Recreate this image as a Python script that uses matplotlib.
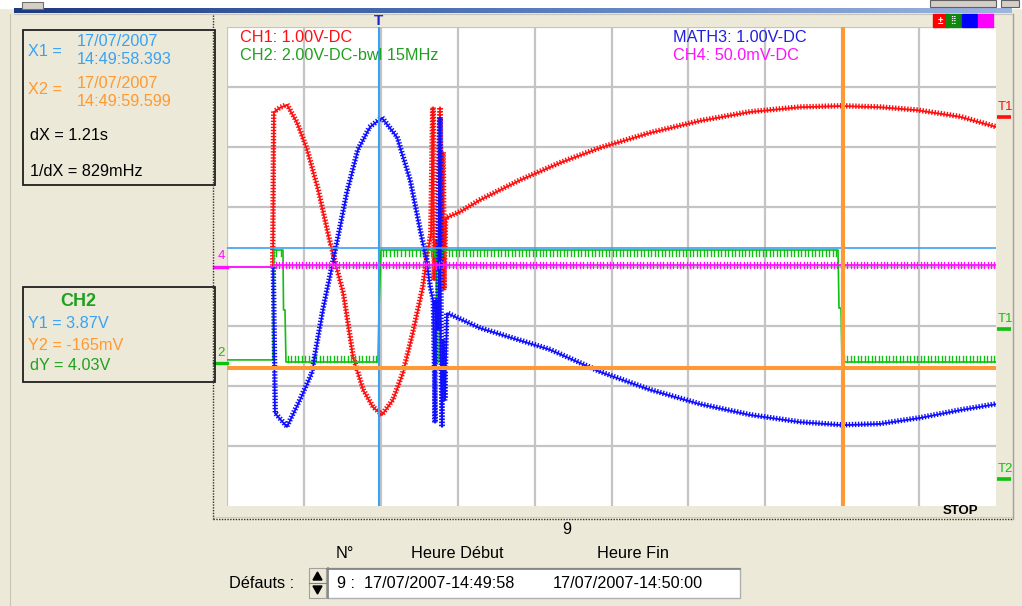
import numpy as np
import matplotlib
matplotlib.use("Agg")
import matplotlib.pyplot as plt
from matplotlib import patheffects as pe
from matplotlib.patches import Rectangle, Polygon
from matplotlib.colors import LinearSegmentedColormap
import matplotlib.transforms as mtransforms

# ------------------------------------------------------------------ data
sec_per_div = 0.2          # time base (s/div), 10 divisions
ch1_scale = 1.0            # V/div
math3_scale = 1.0          # V/div
ch2_scale = 2.0            # V/div
ch2_pos = -1.62            # div (ground position of CH2)
ch4_scale = 50.0           # mV/div

# CH1 (red), seconds / volts
ch1_t = [0.1196, 0.1222, 0.1378, 0.156, 0.1821, 0.2081, 0.2367, 0.2679, 0.3017, 0.3277,
         0.3537, 0.3797, 0.4031, 0.4317, 0.4577, 0.4837, 0.5098, 0.5228, 0.5306, 0.5358,
         0.5384, 0.5436, 0.5488, 0.554, 0.5566, 0.5618, 0.5644, 0.5696, 0.606, 0.658,
         0.762, 0.8661, 0.9701, 1.1001, 1.2302, 1.3602, 1.4903, 1.5995, 1.6983, 1.7946,
         1.9064, 2.0]
ch1_v = [0.0, 2.58, 2.65, 2.70, 2.40, 1.95, 1.28, 0.39, -0.44, -1.51,
         -2.06, -2.35, -2.48, -2.23, -1.78, -1.11, -0.34, 0.28, 0.53, 2.66,
         -0.23, 0.44, -0.06, 2.66, 0.11, 1.91, -0.39, 0.81, 0.91, 1.11,
         1.44, 1.73, 1.98, 2.23, 2.43, 2.58, 2.66, 2.68, 2.66, 2.61,
         2.50, 2.33]

# MATH3 (blue), seconds / volts
math3_t = [0.1196, 0.1248, 0.156, 0.1899, 0.2211, 0.2497, 0.2861, 0.3121, 0.3407, 0.3719,
           0.4031, 0.4421, 0.4759, 0.5019, 0.5202, 0.528, 0.5358, 0.541, 0.5436, 0.5488,
           0.554, 0.5566, 0.5592, 0.5618, 0.567, 0.5722, 0.658, 0.8401, 0.9701, 1.1001,
           1.2302, 1.3602, 1.4903, 1.5995, 1.6983, 1.8024, 1.9064, 2.0]
math3_v = [0.0, -2.45, -2.68, -2.23, -1.78, -0.73, 0.39, 1.23, 1.95, 2.33,
           2.48, 2.16, 1.44, 0.61, 0.06, -0.34, -0.56, -2.61, -0.56, -1.06,
           2.49, -1.89, -2.68, -1.22, -2.23, -0.78, -1.03, -1.39, -1.76, -2.06,
           -2.30, -2.48, -2.60, -2.65, -2.63, -2.53, -2.40, -2.30]

# CH2 (green), seconds / volts
ch2_t = [0.0, 0.1196, 0.1222, 0.1456, 0.147, 0.1508, 0.1534, 0.3927, 0.3953, 0.4005,
         0.5436, 0.5462, 0.5514, 0.554, 1.5891, 1.5917, 1.5969, 1.5995, 2.0]
ch2_v = [0.12, 0.12, 3.79, 3.79, 1.79, 1.79, 0.05, 0.05, 1.79, 3.79,
         3.79, 0.05, 0.05, 3.79, 3.79, 1.85, 1.85, 0.05, 0.05]

# CH4 (magenta), seconds / millivolts
ch4_t = [0.0, 0.1196, 0.1222, 2.0]
ch4_mv = [-0.4, -0.4, 1.25, 1.25]

# cursors
cursor_x = [0.395, 1.601]      # s  (X1, X2)
cursor_y = [3.87, -0.165]      # V on CH2 (Y1, Y2)
trig_ch1 = 2.5                 # V
trig_ch2 = [1.15, -3.86]       # V  (T1, T2)

channel_labels = ["CH1: 1.00V-DC", "CH2: 2.00V-DC-bwl 15MHz",
                  "MATH3: 1.00V-DC", "CH4: 50.0mV-DC"]
x_panel = ["X1 =", "17/07/2007", "14:49:58.393", "X2 =", "17/07/2007", "14:49:59.599",
           "dX = 1.21s", "1/dX = 829mHz"]
y_panel = ["CH2", "Y1 = 3.87V", "Y2 = -165mV", "dY = 4.03V"]
bottom_head = ["N°", "Heure Début", "Heure Fin"]
defaut_row = ["9 :  17/07/2007-14:49:58", "17/07/2007-14:50:00"]

# ------------------------------------------------------------------ style
plt.rcParams['font.family'] = ['Liberation Sans', 'DejaVu Sans']
FS = 11.7
BEIGE = '#ECE9D8'
RED, GREEN, BLUE, MAG = '#FF1010', '#10C010', '#1010FF', '#FF10FF'
CYAN, ORANGE = '#3AA2F2', '#FF9933'
TXT_GREEN = '#20A020'

W, H = 1022, 606
fig = plt.figure(figsize=(W / 100, H / 100), dpi=100, facecolor=BEIGE)

ax = fig.add_axes([227 / W, 1 - 506 / H, 769 / W, 479 / H])
ax.set_facecolor('white')
ax.set_xlim(0, 10 * sec_per_div)
ax.set_ylim(-4, 4)
ax.set_xticks(np.arange(10) * sec_per_div)
ax.set_yticks(np.arange(-3, 5))
ax.grid(True, color='#C4C4C4', lw=1.6)
ax.tick_params(length=0, labelbottom=False, labelleft=False)
for s in ax.spines.values():
    s.set_visible(False)


def to_div(v, scale, pos=0.0):
    return np.asarray(v, float) / scale + pos


def runs(mask):
    idx = np.flatnonzero(mask)
    if idx.size == 0:
        return []
    splits = np.flatnonzero(np.diff(idx) > 1) + 1
    return [g for g in np.split(idx, splits) if g.size >= 2]


def hair(up, down, spacing, lw):
    eff = []
    if up:
        eff.append(pe.TickedStroke(angle=90, spacing=spacing, length=up, linewidth=lw))
    if down:
        eff.append(pe.TickedStroke(angle=-90, spacing=spacing, length=down, linewidth=lw))
    return eff


# CH1
t1 = np.array(ch1_t); y1 = to_div(ch1_v, ch1_scale)
ax.plot(t1, y1, color=RED, lw=1.3, zorder=2,
        path_effects=hair(0.75, 0.55, 2.2, 1.0) + [pe.Normal()])

# CH2
t2 = np.array(ch2_t); v2 = np.array(ch2_v); y2 = to_div(v2, ch2_scale, ch2_pos)
ax.plot(t2, y2, color=GREEN, lw=1.2, zorder=3)
for g in runs((v2 > 2.0)):
    ax.plot(t2[g], y2[g], color=GREEN, lw=1.2, zorder=3,
            path_effects=hair(0, 1.8, 2.5, 1.0))
for g in runs((v2 < 1.0) & (t2 > 0.121)):
    ax.plot(t2[g], y2[g], color=GREEN, lw=1.2, zorder=3,
            path_effects=hair(1.8, 0, 2.5, 1.0))

# MATH3
tm = np.array(math3_t); ym = to_div(math3_v, math3_scale)
ax.plot(tm, ym, color=BLUE, lw=1.3, zorder=4,
        path_effects=hair(0.75, 0.55, 2.2, 1.0) + [pe.Normal()])

# CH4
t4 = np.array(ch4_t); y4 = to_div(ch4_mv, ch4_scale)
ax.plot(t4, y4, color=MAG, lw=1.3, zorder=5)
for g in runs(t4 > 0.121):
    ax.plot(t4[g], y4[g], color=MAG, lw=1.0, zorder=5,
            path_effects=hair(0.9, 0.9, 2.4, 0.9))

# cursors
ax.axvline(cursor_x[0], color=CYAN, lw=1.5, zorder=7)
ax.axhline(to_div(cursor_y[0], ch2_scale, ch2_pos), color=CYAN, lw=1.2, zorder=7)
ax.axvline(cursor_x[1], color=ORANGE, lw=2.9, zorder=7)
ax.axhline(to_div(cursor_y[1], ch2_scale, ch2_pos), color=ORANGE, lw=2.9, zorder=7)

# channel markers in the margins
bl = mtransforms.blended_transform_factory(ax.transAxes, ax.transData)
bt = mtransforms.blended_transform_factory(ax.transData, ax.transAxes)
px = 1 / 769.0
py = 1 / 479.0
for yv, col, lab in [(to_div(0, ch4_scale), MAG, "4"), (ch2_pos, GREEN, "2")]:
    ax.plot([-13 * px, 0], [yv, yv], color=col, lw=2.4, transform=bl, clip_on=False)
    ax.text(-6 * px, yv + 0.17, lab, color=col, fontsize=9.5, ha='center', va='center',
            transform=bl, clip_on=False)
for yv, col, lab in [(to_div(trig_ch1, ch1_scale), RED, "T1"),
                     (to_div(trig_ch2[0], ch2_scale, ch2_pos), GREEN, "T1"),
                     (to_div(trig_ch2[1], ch2_scale, ch2_pos), GREEN, "T2")]:
    ax.plot([1 + 1 * px, 1 + 15 * px], [yv, yv], color=col, lw=2.6, transform=bl,
            clip_on=False, solid_capstyle='butt')
    ax.text(1 + 9 * px, yv + 0.17, lab, color=col, fontsize=9.5, ha='center', va='center',
            transform=bl, clip_on=False)
ax.text(cursor_x[0], 1 + 6 * py, "T", color='#2020C8', fontsize=11, fontweight='bold',
        ha='center', va='center', transform=bt, clip_on=False, zorder=8)

# ------------------------------------------------------------------ window chrome
ui = fig.add_axes([0, 0, 1, 1], zorder=5)
ui.patch.set_alpha(0)
ui.axis('off')
grad = LinearSegmentedColormap.from_list('tb', ['#1C3A82', '#5479BC', '#9DB5E0'])
ui.imshow(np.linspace(0, 1, 256)[None, :], extent=(14, 1012, 13, 8), cmap=grad,
          aspect='auto', zorder=1)
ui.set_xlim(0, W)
ui.set_ylim(H, 0)
ui.add_patch(Rectangle((0, 0), W, 8, color='white', zorder=0))
ui.add_patch(Rectangle((22, 2), 21, 7, fc='#D4D0C8', ec='#707070', lw=0.8, zorder=2))
for x0, w0 in [(930, 66), (1001, 18)]:
    ui.add_patch(Rectangle((x0, 0), w0, 7, fc='#D4D0C8', ec='#606060', lw=0.8, zorder=2))
ui.plot([14, 1012], [14, 14], color='#C8C4B8', lw=0.8)
ui.plot([10, 10], [14, H], color='#C8C4B8', lw=0.8)
ui.plot([213, 213], [15, 519], color='#303030', lw=1.0, ls=(0, (1, 1)))
ui.plot([213, 1013], [519, 519], color='#303030', lw=1.0, ls=(0, (1, 1)))
ui.plot([213, 1013], [517, 517], color='#D8CFA0', lw=0.8)
ui.plot([1013, 1013], [14, 519], color='#A0A0A0', lw=1.0)

# colour buttons top right
for x0, col, sym in [(933, '#FF0000', '±'), (946, '#108810', '⁞⁞'),
                     (962, '#0000FF', ''), (978, '#FF00FF', '')]:
    ui.add_patch(Rectangle((x0, 14), 15, 13, color=col, zorder=3))
    if sym:
        ui.text(x0 + 7.5, 20.5, sym, color='white', fontsize=7, ha='center', va='center',
                fontweight='bold', zorder=4)

# labels inside the scope
ui.text(240, 38, channel_labels[0], color=RED, fontsize=FS, va='center')
ui.text(240, 55, channel_labels[1], color=TXT_GREEN, fontsize=FS, va='center')
ui.text(673, 38, channel_labels[2], color='#2020E0', fontsize=FS, va='center')
ui.text(673, 55, channel_labels[3], color=MAG, fontsize=FS, va='center')
ui.text(960, 511, "STOP", color='black', fontsize=9.5, fontweight='bold',
        ha='center', va='center')

# left cursor boxes
ui.add_patch(Rectangle((23, 30), 192, 155, fill=False, ec='#202020', lw=1.3))
ui.add_patch(Rectangle((23, 287), 192, 95, fill=False, ec='#202020', lw=1.3))
ui.text(28, 52, x_panel[0], color=CYAN, fontsize=FS, va='center')
ui.text(77, 42, x_panel[1], color=CYAN, fontsize=FS, va='center')
ui.text(77, 60, x_panel[2], color=CYAN, fontsize=FS, va='center')
ui.text(28, 89, x_panel[3], color=ORANGE, fontsize=FS, va='center')
ui.text(77, 84, x_panel[4], color=ORANGE, fontsize=FS, va='center')
ui.text(77, 101, x_panel[5], color=ORANGE, fontsize=FS, va='center')
ui.text(30, 135, x_panel[6], color='black', fontsize=FS, va='center')
ui.text(30, 172, x_panel[7], color='black', fontsize=FS, va='center')
ui.text(78, 302, y_panel[0], color=TXT_GREEN, fontsize=13, fontweight='bold',
        ha='center', va='center')
ui.text(28, 323, y_panel[1], color=CYAN, fontsize=FS, va='center')
ui.text(28, 345, y_panel[2], color=ORANGE, fontsize=FS, va='center')
ui.text(30, 366, y_panel[3], color=TXT_GREEN, fontsize=FS, va='center')

# bottom panel
ui.text(567, 530, "9", color='black', fontsize=FS, ha='center', va='center')
ui.text(345, 553, bottom_head[0], color='black', fontsize=FS, ha='center', va='center')
ui.text(457, 553, bottom_head[1], color='black', fontsize=FS, ha='center', va='center')
ui.text(633, 553, bottom_head[2], color='black', fontsize=FS, ha='center', va='center')
ui.text(229, 583, "Défauts :", color='black', fontsize=FS, va='center')
ui.add_patch(Rectangle((309, 568), 17, 30, fc='#ECE9D8', ec='#A0A0A0', lw=0.8))
ui.plot([309, 326], [583, 583], color='#808080', lw=0.8)
ui.add_patch(Polygon([(313, 580), (322, 580), (317.5, 572)], color='black'))
ui.add_patch(Polygon([(313, 586), (322, 586), (317.5, 594)], color='black'))
ui.add_patch(Rectangle((327, 568), 413, 30, fc='white', ec='#B0B0B0', lw=1.0))
ui.plot([327, 740], [569, 569], color='#808080', lw=1.2)
ui.plot([328, 328], [568, 598], color='#808080', lw=1.2)
ui.text(337, 583, defaut_row[0], color='black', fontsize=FS, va='center')
ui.text(553, 583, defaut_row[1], color='black', fontsize=FS, va='center')

fig.savefig("out.png", dpi=100, facecolor=BEIGE)
